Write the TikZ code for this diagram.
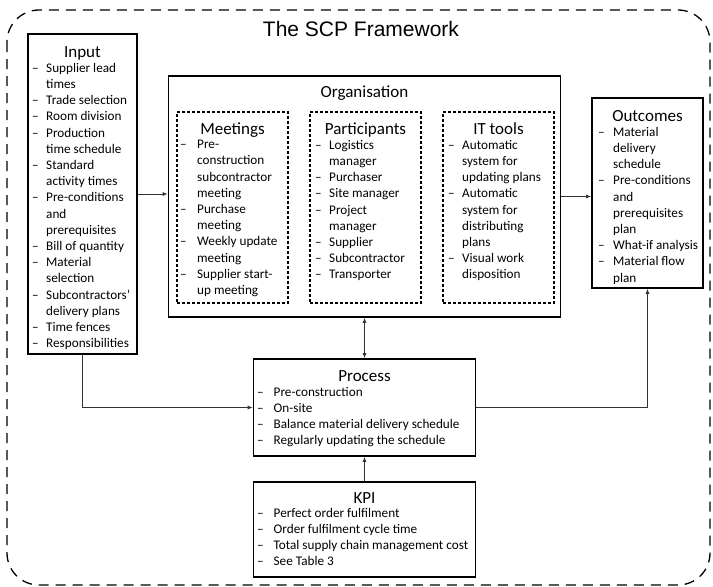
\documentclass[tikz,border=0pt]{standalone}
\usepackage{fontspec}
\setmainfont{Carlito}
\newfontfamily\headfont{Liberation Sans}
\usetikzlibrary{arrows.meta}

% indent between the item dash and the item text
\newlength\gapw
\newcommand\itm{\makebox[\gapw][l]{\textendash}}
\newcommand\cnt{\hspace*{\gapw}}

\tikzset{
  frame/.style={draw=black, line width=1.6pt, inner sep=0pt},
  subframe/.style={draw=black, line width=1.5pt, dash pattern=on 3pt off 2pt, inner sep=0pt},
  outer/.style={draw=black, line width=1.3pt, dash pattern=on 10pt off 7pt, rounded corners=32pt},
  heading/.style={font=\fontsize{17}{20}\selectfont, anchor=base, inner sep=0pt},
  items/.style={font=\fontsize{13.2}{16.2}\selectfont, align=left, anchor=north west, inner sep=0pt,
    execute at begin node={\global\gapw=#1\relax\rule{0pt}{11pt}}},
  items/.default=14pt,
  link/.style={draw=black!80, line width=0.9pt},
  tip/.style={-{Latex[length=5pt,width=4pt]}},
  dtip/.style={{Latex[length=5pt,width=4pt]}-{Latex[length=5pt,width=4pt]}},
}

\begin{document}
\begin{tikzpicture}[x=1pt,y=-1pt]
\fill[white] (0,0) rectangle (713,587);
\useasboundingbox (0,0) rectangle (713,587);

% framework boundary and its title
\draw[outer] (7,10) rectangle (710,585);
\node[font=\headfont\fontsize{21}{24}\selectfont, anchor=base, inner sep=0pt] (title) at (361,36) {The SCP Framework};

% Input
\node[frame, minimum width=109pt, minimum height=320pt] (input) at (82.5,194) {};
\node[heading] (inputhead) at (82.5,57) {Input};
\node[items=14pt] (inputlist) at (32,63) {\itm Supplier lead\\ \cnt times\\ \itm Trade selection\\ \itm Room division\\ \itm Production\\ \cnt time schedule\\ \itm Standard\\ \cnt activity times\\ \itm Pre-conditions\\ \cnt and\\ \cnt prerequisites\\ \itm Bill of quantity\\ \itm Material\\ \cnt selection\\ \itm Subcontractors'\\ \cnt delivery plans\\ \itm Time fences\\ \itm Responsibilities};

% Organisation with its three groups
\node[frame, minimum width=392pt, minimum height=241pt] (org) at (364.5,196.5) {};
\node[heading] (orghead) at (364.5,97) {Organisation};

\node[subframe, minimum width=111pt, minimum height=191pt] (meet) at (232.5,207.5) {};
\node[heading] (meethead) at (232.5,134) {Meetings};
\node[items=17pt] (meetlist) at (180,140) {\itm Pre-\\ \cnt construction\\ \cnt subcontractor\\ \cnt meeting\\ \itm Purchase\\ \cnt meeting\\ \itm Weekly update\\ \cnt meeting\\ \itm Supplier start-\\ \cnt up meeting};

\node[subframe, minimum width=111pt, minimum height=191pt] (part) at (365.5,207.5) {};
\node[heading] (parthead) at (365.5,134) {Participants};
\node[items=14pt] (partlist) at (315,140) {\itm Logistics\\ \cnt manager\\ \itm Purchaser\\ \itm Site manager\\ \itm Project\\ \cnt manager\\ \itm Supplier\\ \itm Subcontractor\\ \itm Transporter};

\node[subframe, minimum width=111pt, minimum height=191pt] (tools) at (498.5,207.5) {};
\node[heading] (toolshead) at (498.5,134) {IT tools};
\node[items=14pt] (toolslist) at (448,140) {\itm Automatic\\ \cnt system for\\ \cnt updating plans\\ \itm Automatic\\ \cnt system for\\ \cnt distributing\\ \cnt plans\\ \itm Visual work\\ \cnt disposition};

% Outcomes
\node[frame, minimum width=111pt, minimum height=190pt] (out) at (647.5,193) {};
\node[heading] (outhead) at (647.5,121) {Outcomes};
\node[items=15pt] (outlist) at (598,127) {\itm Material\\ \cnt delivery\\ \cnt schedule\\ \itm Pre-conditions\\ \cnt and\\ \cnt prerequisites\\ \cnt plan\\ \itm What-if analysis\\ \itm Material flow\\ \cnt plan};

% Process
\node[frame, minimum width=222pt, minimum height=97pt] (proc) at (364.5,407.5) {};
\node[heading] (prochead) at (364.5,381) {Process};
\node[items=16.5pt] (proclist) at (257,387) {\itm Pre-construction\\ \itm On-site\\ \itm Balance material delivery schedule\\ \itm Regularly updating the schedule};

% KPI
\node[frame, minimum width=222pt, minimum height=95pt] (kpi) at (364.5,529.5) {};
\node[heading] (kpihead) at (364.5,503) {KPI};
\node[items=16.5pt] (kpilist) at (257,508) {\itm Perfect order fulfilment\\ \itm Order fulfilment cycle time\\ \itm Total supply chain management cost\\ \itm See Table 3};

% connectors
\draw[link, tip] (input.east) -- (input.east -| org.west);
\draw[link, tip] (org.east) -- (org.east -| out.west);
\draw[link, dtip] (org.south) -- (proc.north);
\draw[link, tip] (input.south) |- (proc.west);
\draw[link, tip] (proc.east) -| (out.south);
\draw[link, tip] (kpi.north) -- (proc.south);
\end{tikzpicture}
\end{document}
